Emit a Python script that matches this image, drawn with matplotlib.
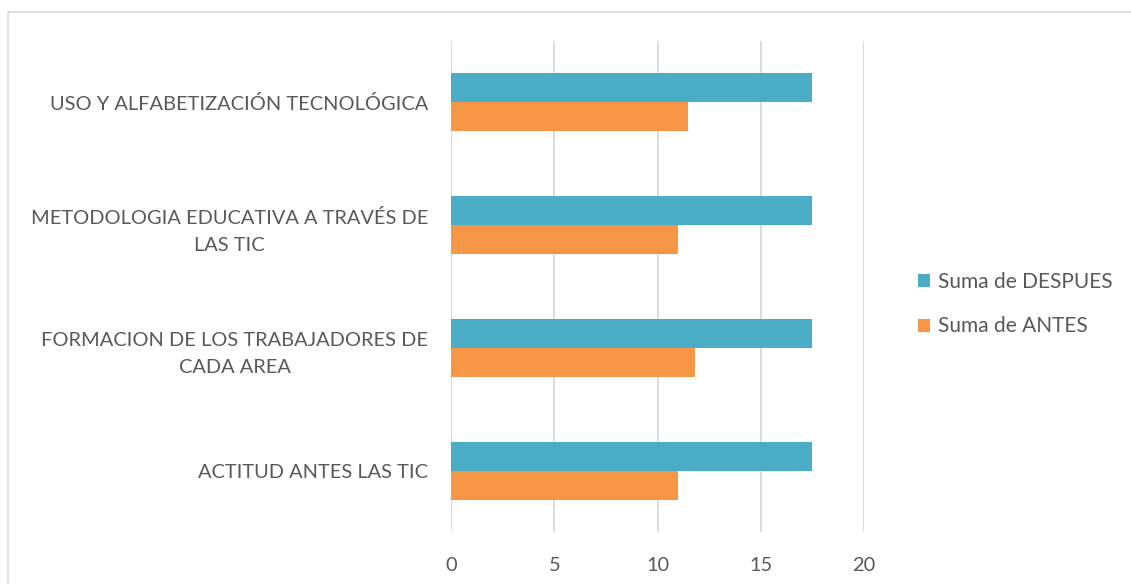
import matplotlib
matplotlib.use("Agg")
import matplotlib.pyplot as plt
from matplotlib.patches import Rectangle

categories = ["ACTITUD ANTES LAS TIC",
              "FORMACION DE LOS TRABAJADORES DE\nCADA AREA",
              "METODOLOGIA EDUCATIVA A TRAVÉS DE\nLAS TIC",
              "USO Y ALFABETIZACIÓN TECNOLÓGICA"]
despues = [17.5, 17.5, 17.5, 17.5]
antes = [11.0, 11.8, 11.0, 11.5]
series_names = ["Suma de DESPUES", "Suma de ANTES"]
xticks = [0, 5, 10, 15, 20]

plt.rcParams['font.family'] = ['Lato', 'DejaVu Sans']
text_color = "#595959"
fs = 14.4

fig = plt.figure(figsize=(11.31, 5.84), dpi=100)
fig.patches.append(Rectangle((7.5/1131, -0.1), 1.2, 1 - 11.5/584 + 0.1,
                             transform=fig.transFigure, fill=False,
                             edgecolor="#D9D9D9", linewidth=1.2))
ax = fig.add_axes([451/1131, 1 - 532/584, (864 - 451)/1131, (532 - 41)/584])

h = 0.236
y = list(range(len(categories)))
ax.barh([v + h/2 for v in y], despues, height=h, color="#4BACC6", label=series_names[0], zorder=3)
ax.barh([v - h/2 for v in y], antes, height=h, color="#F79646", label=series_names[1], zorder=3)

ax.set_xlim(0, 20)
ax.set_ylim(-0.5, 3.5)
ax.set_xticks(xticks)
ax.set_xticklabels([str(t) for t in xticks])
ax.set_yticks(y)
ax.set_yticklabels(categories, multialignment="center", linespacing=1.7)
ax.grid(axis="x", color="#D9D9D9", linewidth=1.3, zorder=0)
for s in ax.spines.values():
    s.set_visible(False)
ax.tick_params(axis="both", length=0, colors=text_color, labelsize=fs)
ax.tick_params(axis="x", pad=18)
ax.tick_params(axis="y", pad=16.5)

leg = fig.legend(loc="center left", bbox_to_anchor=(899/1131, 1 - 304/584), frameon=False,
                 fontsize=15, handlelength=0.6, handleheight=0.6, handletextpad=0.35,
                 labelspacing=1.2, labelcolor=text_color)

fig.savefig("out.png", dpi=100)
